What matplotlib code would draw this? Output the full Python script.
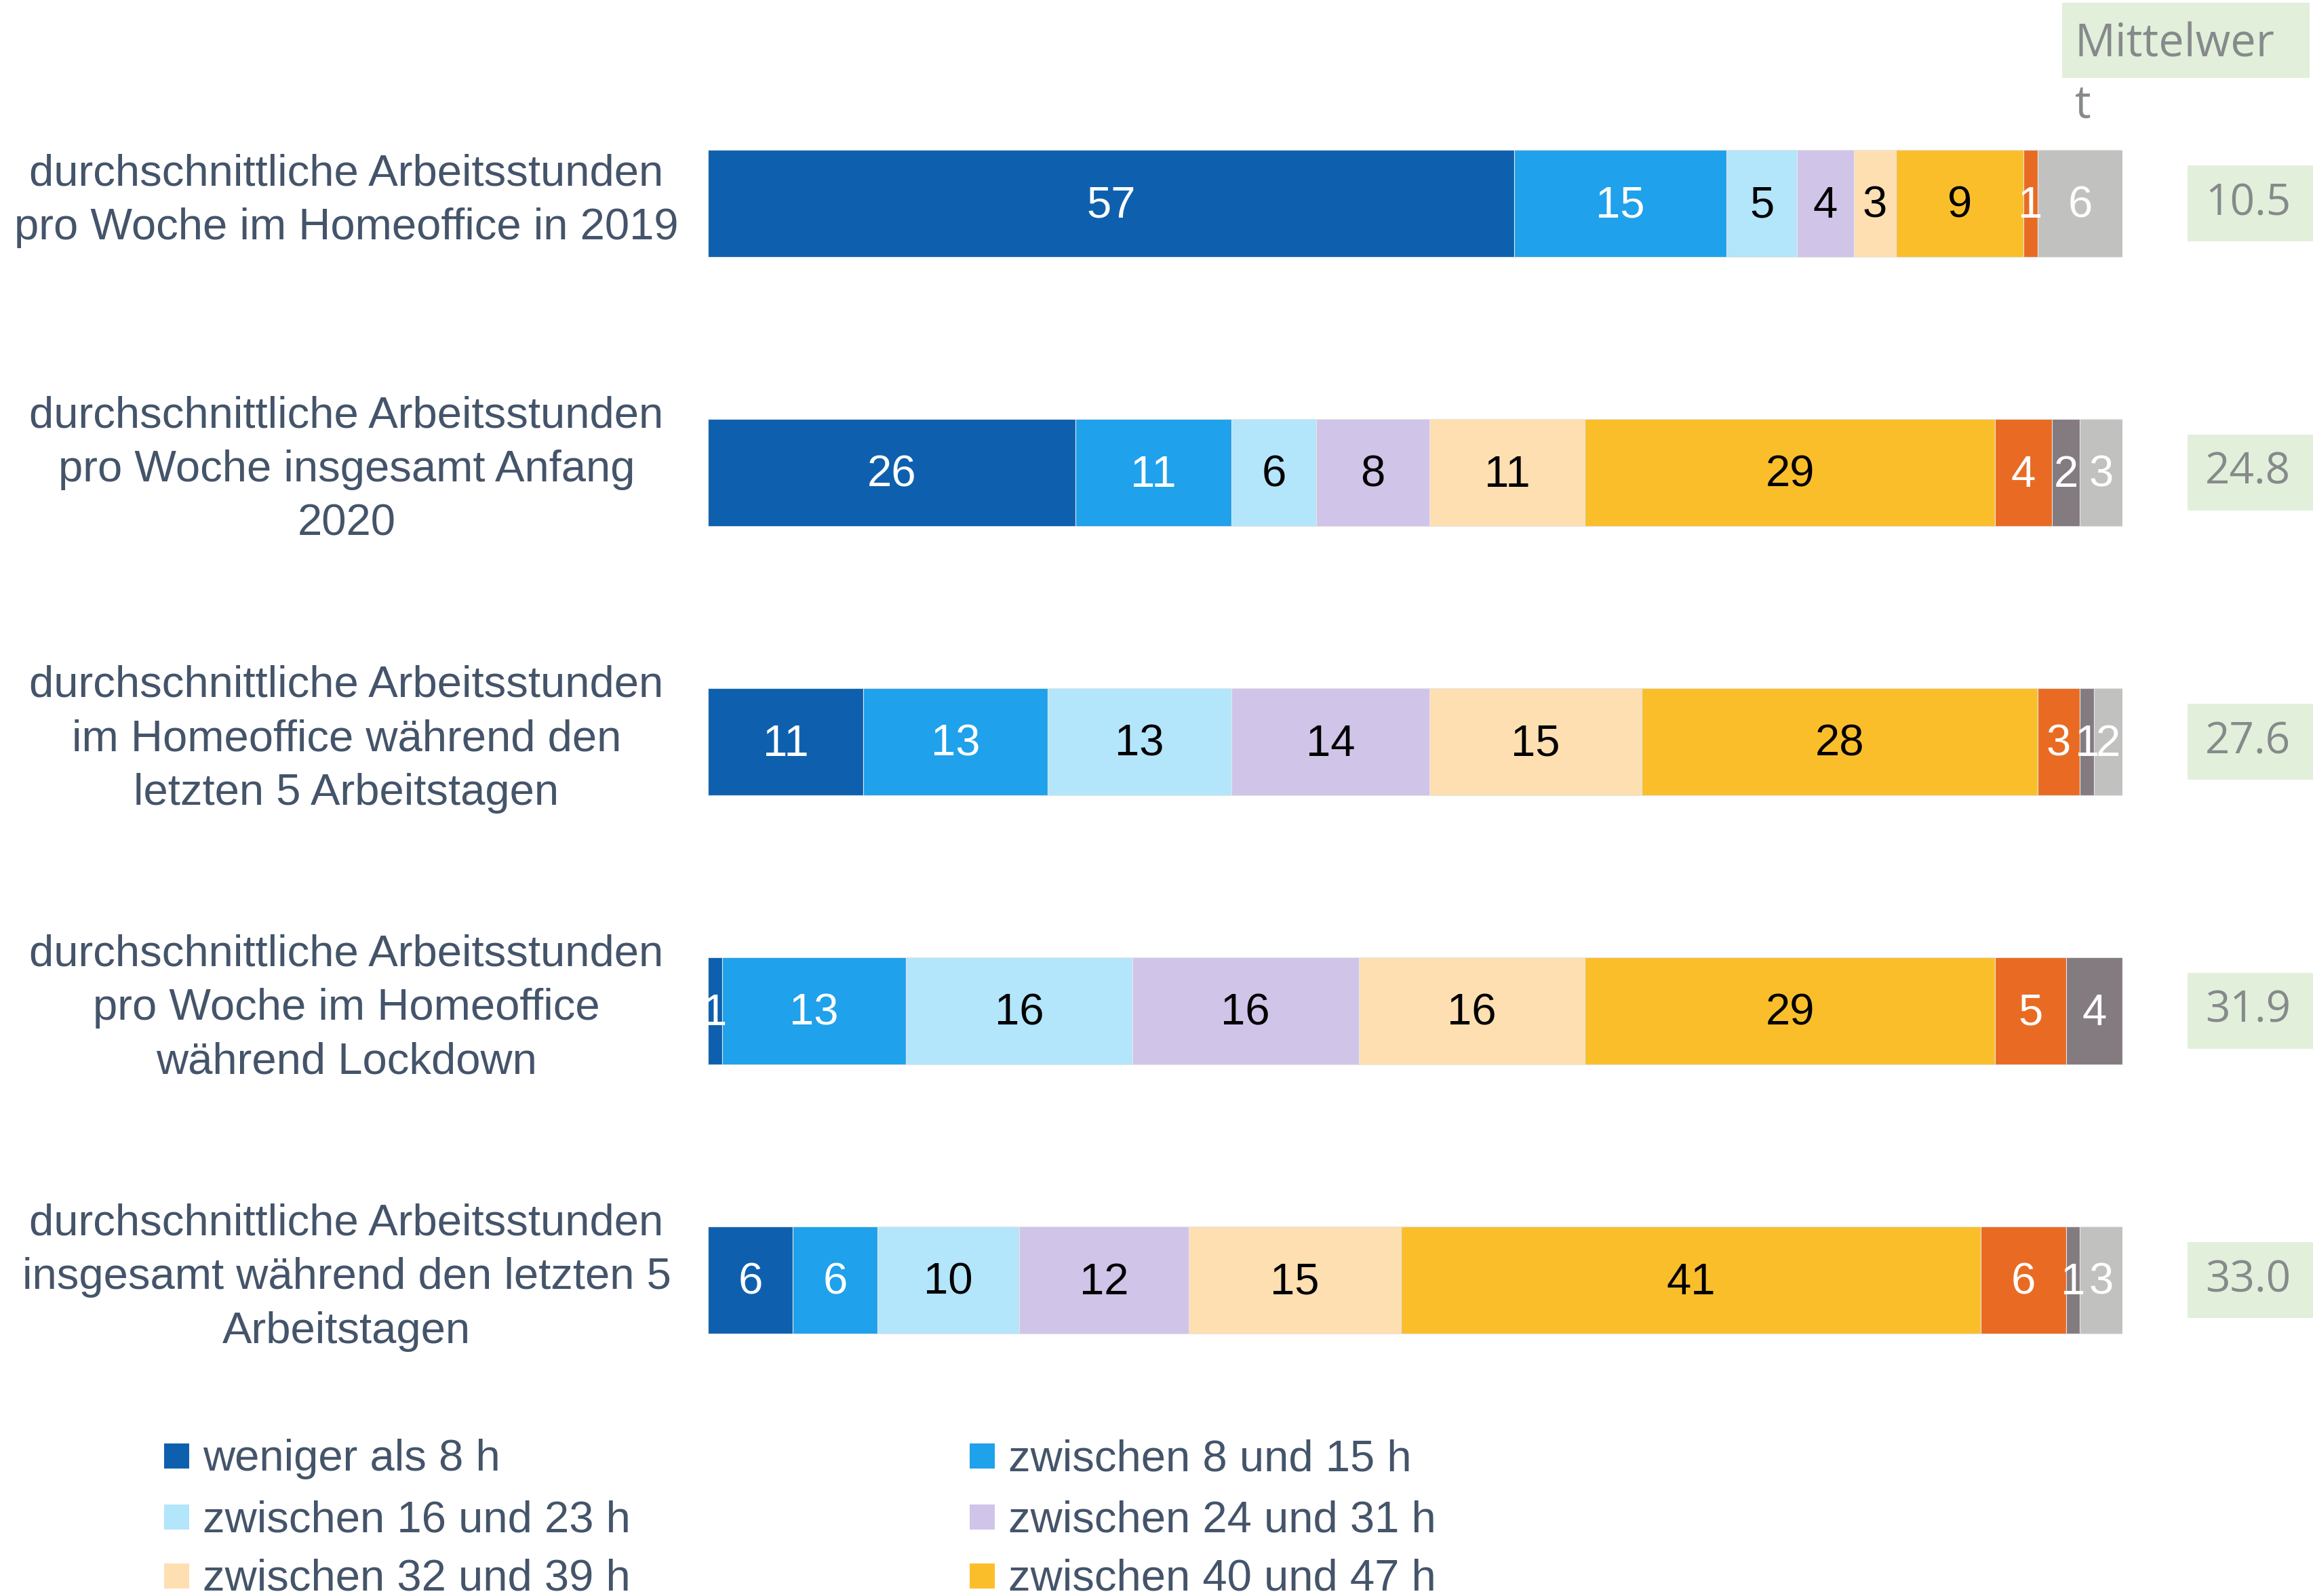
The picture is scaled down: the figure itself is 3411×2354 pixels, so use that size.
import numpy as np
import matplotlib.pyplot as plt
from matplotlib.patches import Rectangle
from matplotlib.transforms import blended_transform_factory

# -------- Data --------
categories = [
    "durchschnittliche Arbeitsstunden\npro Woche im Homeoffice in 2019",
    "durchschnittliche Arbeitsstunden\npro Woche insgesamt Anfang\n2020",
    "durchschnittliche Arbeitsstunden\nim Homeoffice während den\nletzten 5 Arbeitstagen",
    "durchschnittliche Arbeitsstunden\npro Woche im Homeoffice\nwährend Lockdown",
    "durchschnittliche Arbeitsstunden\ninsgesamt während den letzten 5\nArbeitstagen",
]

legend_labels = [
    "weniger als 8 h",
    "zwischen 8 und 15 h",
    "zwischen 16 und 23 h",
    "zwischen 24 und 31 h",
    "zwischen 32 und 39 h",
    "zwischen 40 und 47 h",
]

weniger_8 = [57, 26, 11, 1, 6]
h8_15 = [15, 11, 13, 13, 6]
h16_23 = [5, 6, 13, 16, 10]
h24_31 = [4, 8, 14, 16, 12]
h32_39 = [3, 11, 15, 16, 15]
h40_47 = [9, 29, 28, 29, 41]
h48_plus = [1, 4, 3, 5, 6]
dark_rest = [0, 2, 1, 4, 1]
light_rest = [6, 3, 2, 0, 3]

mittelwert = [10.5, 24.8, 27.6, 31.9, 33.0]

series = [weniger_8, h8_15, h16_23, h24_31, h32_39, h40_47, h48_plus, dark_rest, light_rest]
colors = ["#0E60AE", "#1FA1EB", "#B3E5FB", "#D0C4E8", "#FEDFB2",
          "#FBBE2B", "#E96B23", "#847B80", "#C1C1C0"]
text_colors = ["white", "white", "black", "black", "black",
               "black", "white", "white", "white"]

# -------- Figure --------
W, H = 3411, 2354
fig = plt.figure(figsize=(W / 100, H / 100), dpi=100)
narrow = ["Liberation Sans", "DejaVu Sans"]
slate = "#44546A"
grey_txt = "#868A8B"
green_box = "#E2EFDA"


def fx(x):
    return x / W


def fy(y):
    return 1 - y / H


# bar area: rows spaced ~397 px, first row centre at y=300
ax = fig.add_axes([fx(1044), fy(2086.5), fx(3130) - fx(1044), 1985 / H])
ax.set_xlim(0, 100)
ax.set_ylim(4.5, -0.5)
ax.axis("off")

y = np.arange(len(categories))
left = np.zeros(len(categories))
for vals, col, tcol in zip(series, colors, text_colors):
    vals = np.array(vals, dtype=float)
    ax.barh(y, vals, left=left, height=0.4, color=col,
            edgecolor="#e6e6e6", linewidth=0.8)
    for yi, v, l in zip(y, vals, left):
        if v > 0:
            ax.text(l + v / 2, yi + 0.01, f"{int(v)}", ha="center", va="center",
                    fontsize=47, color=tcol, family=narrow)
    left = left + vals

# category labels (centred block at left)
trans = blended_transform_factory(fig.transFigure, ax.transData)
for yi, cat in zip(y, categories):
    ax.text(fx(511), yi - 0.01, cat, transform=trans, ha="center", va="center",
            fontsize=47, color=slate, family=narrow, linespacing=1.42)

# Mittelwert boxes
for yi, m in zip(y, mittelwert):
    ax.add_patch(Rectangle((fx(3226), yi - 0.14), fx(3411) - fx(3226), 0.28,
                           transform=trans, facecolor=green_box,
                           edgecolor="none", clip_on=False))
    ax.text(fx(3315), yi, f"{m:.1f}", transform=trans, ha="center",
            va="center", fontsize=46, color=grey_txt, family="Open Sans")

# header
fig.add_artist(Rectangle((fx(3041), fy(115)), fx(3406) - fx(3041), 111 / H,
                         transform=fig.transFigure, facecolor=green_box,
                         edgecolor="none"))
fig.text(fx(3060), fy(83), "Mittelwer", ha="left", va="baseline",
         fontsize=48, color=grey_txt, family="Open Sans")
fig.text(fx(3060), fy(173), "t", ha="left", va="baseline",
         fontsize=48, color=grey_txt, family="Open Sans")

# legend (two columns, filled row by row)
leg_x = [(242, 299), (1430, 1487)]
leg_y = [2152, 2242, 2329]
for i, lab in enumerate(legend_labels):
    mx, tx = leg_x[i % 2]
    ly = leg_y[i // 2]
    fig.add_artist(Rectangle((fx(mx), fy(ly + 14)), 37 / W, 37 / H,
                             transform=fig.transFigure, facecolor=colors[i],
                             edgecolor="none"))
    fig.text(fx(tx), fy(ly), lab, ha="left", va="center", fontsize=47,
             color=slate, family=narrow)

plt.savefig("out.png", dpi=100)
